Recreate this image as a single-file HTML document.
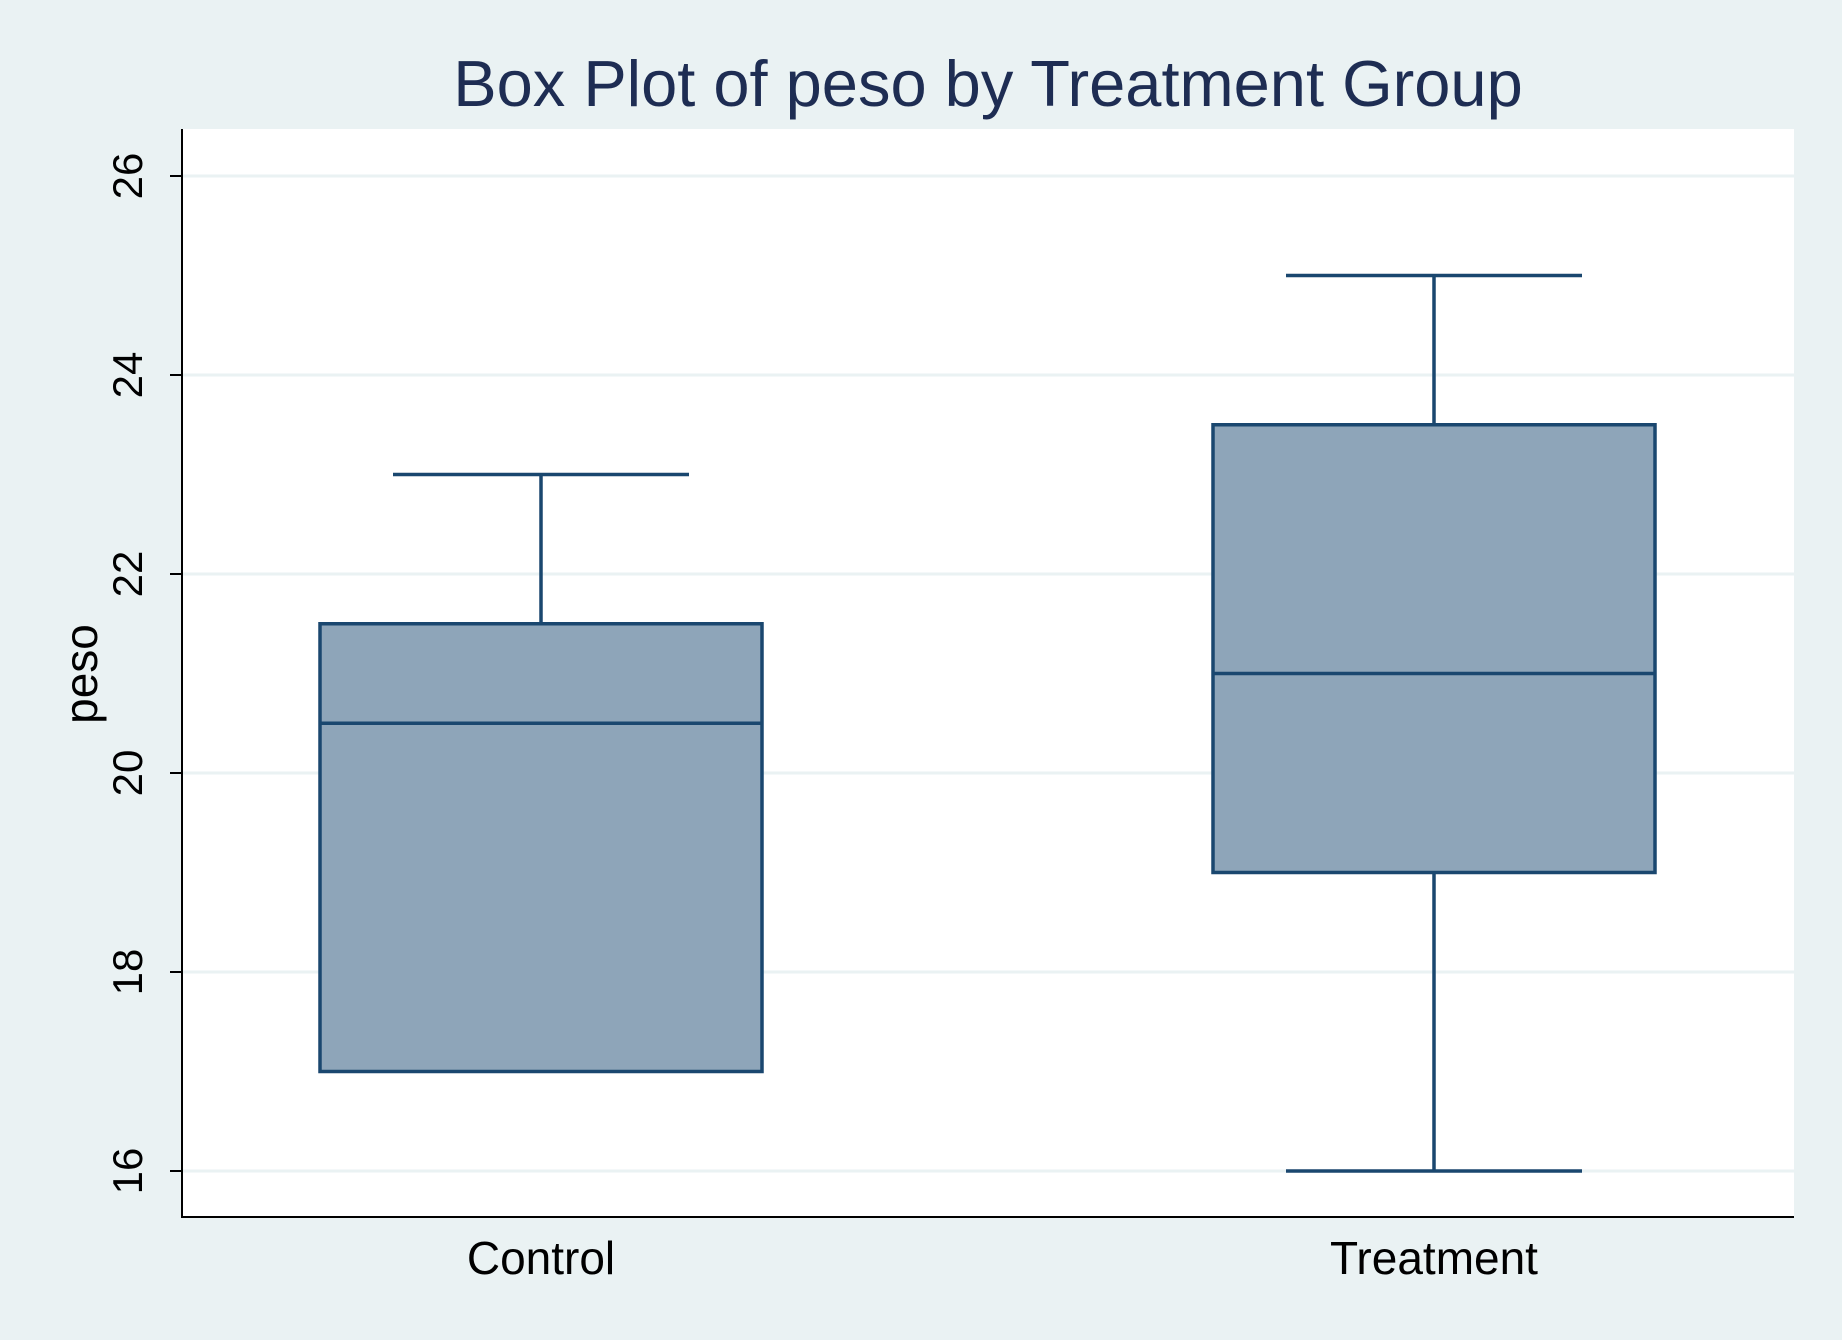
<!DOCTYPE html>
<html><head><meta charset="utf-8"><style>
html,body{margin:0;padding:0;background:#eaf2f3;}
svg{display:block;font-family:"Liberation Sans",sans-serif;}
</style></head><body>
<svg id="chart" width="1842" height="1340" viewBox="0 0 1842 1340" xmlns="http://www.w3.org/2000/svg">
<rect x="0" y="0" width="1842" height="1340" fill="#eaf2f3"/>
<text x="988" y="106" text-anchor="middle" font-size="65" fill="#1e2d53">Box Plot of peso by Treatment Group</text>
<rect x="182" y="129" width="1612" height="1088" fill="#ffffff"/>
<g id="grid"></g>
<g id="boxes"></g>
<line x1="182" y1="129" x2="182" y2="1218" stroke="#000" stroke-width="2"/>
<line x1="181" y1="1217" x2="1794" y2="1217" stroke="#000" stroke-width="2"/>
<text transform="translate(97,674) rotate(-90)" text-anchor="middle" font-size="46" fill="#000">peso</text>
<g id="labels"></g>
</svg>
<script>
const categories = ["Control", "Treatment"];
const mins = [17, 16];
const q1s = [17, 19];
const medians = [20.5, 21];
const q3s = [21.5, 23.5];
const maxs = [23, 25];
const yTicks = [16, 18, 20, 22, 24, 26];

const NS = "http://www.w3.org/2000/svg";
function y(v){ return 1171 - (v - 16) * 99.5; }
function x(i){ return 541 + i * 893; }
function mk(tag, attrs, parent){
  const e = document.createElementNS(NS, tag);
  for (const k in attrs) e.setAttribute(k, attrs[k]);
  parent.appendChild(e);
  return e;
}
const grid = document.getElementById("grid");
const labels = document.getElementById("labels");
const boxes = document.getElementById("boxes");
yTicks.forEach(t => {
  const g = mk("line", {x1:182, x2:1794, y1:y(t), y2:y(t), stroke:"#eaf2f3", "stroke-width":3}, grid);
  
  
  const tk = mk("line", {x1:170, x2:182, y1:y(t), y2:y(t), stroke:"#000", "stroke-width":2}, grid);
  
  
  const tx = mk("text", {transform:"translate(142," + y(t) + ") rotate(-90)", "text-anchor":"middle", "font-size":42, fill:"#000"}, labels);
  tx.textContent = String(t);
  
  
});
const halfBox = 221, halfCap = 148, col = "#1a476f", sw = 3.5;
categories.forEach((c, i) => {
  const cx = x(i);
  const g = mk("g", {}, boxes);
  
  
  const wu = mk("line", {x1:cx, x2:cx, y1:y(q3s[i]), y2:y(maxs[i]), stroke:col, "stroke-width":sw}, g);
  
  
  const cu = mk("line", {x1:cx-halfCap, x2:cx+halfCap, y1:y(maxs[i]), y2:y(maxs[i]), stroke:col, "stroke-width":sw}, g);
  
  
  if (mins[i] < q1s[i]) {
    const wl = mk("line", {x1:cx, x2:cx, y1:y(q1s[i]), y2:y(mins[i]), stroke:col, "stroke-width":sw}, g);
    
    
    const cl = mk("line", {x1:cx-halfCap, x2:cx+halfCap, y1:y(mins[i]), y2:y(mins[i]), stroke:col, "stroke-width":sw}, g);
    
    
  }
  const r = mk("rect", {x:cx-halfBox, y:y(q3s[i]), width:2*halfBox, height:y(q1s[i])-y(q3s[i]), fill:"#8ea5b9", stroke:col, "stroke-width":sw}, g);
  
  
  const m = mk("line", {x1:cx-halfBox, x2:cx+halfBox, y1:y(medians[i]), y2:y(medians[i]), stroke:col, "stroke-width":sw}, g);
  
  
  const t = mk("text", {x:cx, y:1274, "text-anchor":"middle", "font-size":46, fill:"#000"}, labels);
  t.textContent = c;
  
  
});
</script>
</body></html>
